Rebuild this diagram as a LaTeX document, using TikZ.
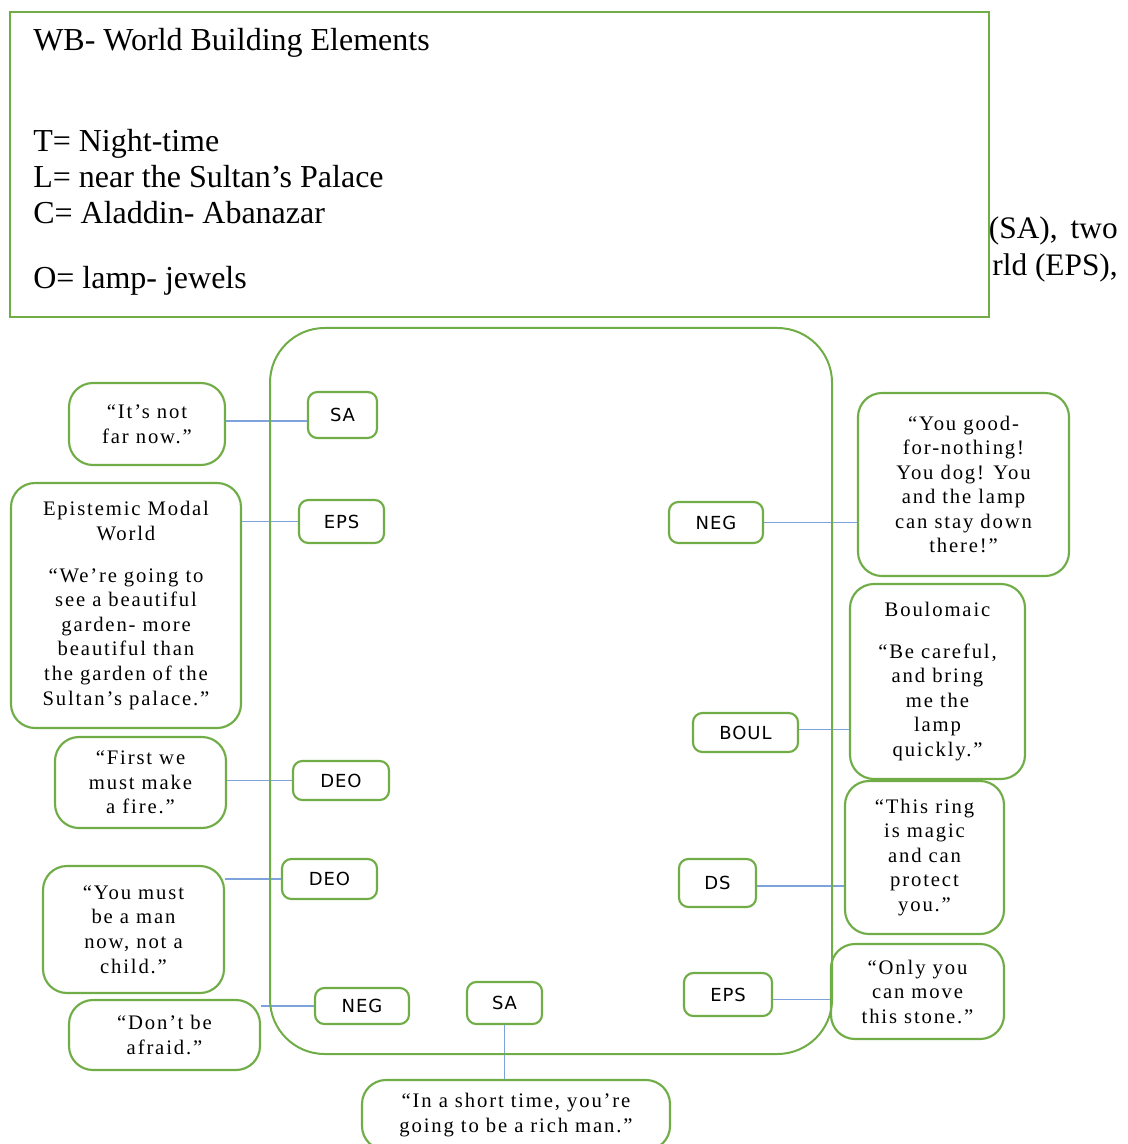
\documentclass[tikz,border=0pt]{standalone}
\usepackage{fontspec}
\setmainfont{Liberation Serif}
\newfontfamily\quotefont[LetterSpace=9]{Liberation Serif}
\newfontfamily\tagfont[LetterSpace=5]{DejaVu Sans}
\usetikzlibrary{calc}
\definecolor{boxgreen}{HTML}{70AD47}
\definecolor{linkblue}{HTML}{7EA2DC}

\begin{document}
\begin{tikzpicture}[x=0.75pt,y=-0.75pt,
  qbox/.style n args={2}{draw=boxgreen, line width=1.6pt, rounded corners=18pt,
    fill=white, minimum width=#1*0.75pt, minimum height=#2*0.75pt,
    inner sep=0pt, align=center, font=\quotefont\fontsize{15.5}{18.4}\selectfont},
  tagbox/.style n args={2}{draw=boxgreen, line width=1.6pt, rounded corners=7pt,
    fill=white, minimum width=#1*0.75pt, minimum height=#2*0.75pt,
    inner sep=0pt, font=\tagfont\fontsize{13.5}{16}\selectfont},
  link/.style={draw=linkblue, line width=0.8pt},
  wbtext/.style={anchor=base west, inner sep=0pt, font=\fontsize{24}{27}\selectfont},
  runtext/.style={anchor=base east, inner sep=0pt, font=\fontsize{23.5}{27}\selectfont},
]
\useasboundingbox (0,0) rectangle (1127,1144);

% running text behind the legend box
\node[runtext] (runA) at (1118,239) {(SA),\, two};
\node[runtext] (runB) at (1118,276) {rld (EPS),};

% legend box
\node[draw=boxgreen, line width=2.2pt, fill=white, inner sep=0pt,
      minimum width=979*0.75pt, minimum height=305*0.75pt] (wb) at (499.5,164.5) {};
\node[wbtext] (wbT) at (33,51)  {WB- World Building Elements};
\node[wbtext] (wbTime) at (33,152) {T= Night-time};
\node[wbtext] (wbLoc) at (33,188) {L= near the Sultan’s Palace};
\node[wbtext] (wbChar) at (33,224) {C= Aladdin- Abanazar};
\node[wbtext] (wbObj) at (33,289) {O= lamp- jewels};

% quotation boxes
\node[qbox={156}{82}]  (q1)  at (147,424)    {“It’s not\\far now.”};
\node[qbox={230}{245}] (q2)  at (126,605.5)  {Epistemic Modal\\World\\[13pt]“We’re going to\\see a beautiful\\garden- more\\beautiful than\\the garden of the\\Sultan’s palace.”};
\node[qbox={211}{183}] (q3)  at (963.5,484.5) {“You good-\\for-nothing!\\You dog! You\\and the lamp\\can stay down\\there!”};
\node[qbox={175}{195}] (q4)  at (937.5,681.5) {Boulomaic\\[13pt]“Be careful,\\and bring\\me the\\lamp\\quickly.”};
\node[qbox={171}{91}]  (q5)  at (140.5,782.5) {“First we\\must make\\a fire.”};
\node[qbox={181}{127}] (q6)  at (133.5,929.5) {“You must\\be a man\\now, not a\\child.”};
\node[qbox={191}{70}]  (q7)  at (164.5,1035)  {“Don’t be\\afraid.”};
\node[qbox={159}{153}] (q8)  at (924.5,857.5) {“This ring\\is magic\\and can\\protect\\you.”};
\node[qbox={173}{95}]  (q9)  at (917.5,991.5) {“Only you\\can move\\this stone.”};
\node[qbox={308}{70}]  (q10) at (516,1115)    {“In a short time, you’re\\going to be a rich man.”};

% category tags
\node[tagbox={69}{46}]  (saA)  at (342.5,415)   {SA};
\node[tagbox={85}{43}]  (epsA) at (341.5,521.5) {EPS};
\node[tagbox={94}{41}]  (negA) at (716,522.5)   {NEG};
\node[tagbox={105}{39}] (boul) at (745.5,732.5) {BOUL};
\node[tagbox={96}{39}]  (deoA) at (341,780.5)   {DEO};
\node[tagbox={95}{40}]  (deoB) at (329.5,879)   {DEO};
\node[tagbox={77}{48}]  (ds)   at (717.5,883)   {DS};
\node[tagbox={88}{43}]  (epsB) at (728,994.5)   {EPS};
\node[tagbox={94}{36}]  (negB) at (362,1006)    {NEG};
\node[tagbox={75}{42}]  (saB)  at (504.5,1003)  {SA};

% connectors, joined a little off the tag centre where the line sits lower or higher
\coordinate (saAj)  at ($(saA.west)+(0,6)$);
\coordinate (boulj) at ($(boul.east)+(0,-3)$);
\coordinate (dsj)   at ($(ds.east)+(0,3)$);
\coordinate (epsBj) at ($(epsB.east)+(0,5)$);
\draw[link] (saAj)  -- (saAj -| q1.east);
\draw[link] (epsA.west) -- (epsA.west -| q2.east);
\draw[link] (negA.east) -- (negA.east -| q3.west);
\draw[link] (boulj) -- (boulj -| q4.west);
\draw[link] (deoA.west) -- (deoA.west -| q5.east);
\draw[link] (deoB.west) -- (deoB.west -| q6.east);
\draw[link] (dsj)   -- (dsj -| q8.west);
\draw[link] (epsBj) -- (epsBj -| q9.west);
\draw[link] (negB.west) -- (negB.west -| q7.east);
\draw[link] (saB.south) -- (saB.south |- q10.north);

% text world frame
\node[draw=boxgreen, line width=1.5pt, rounded corners=41pt, inner sep=0pt,
      minimum width=562*0.75pt, minimum height=726*0.75pt] (world) at (551,691) {};
\end{tikzpicture}
\end{document}
